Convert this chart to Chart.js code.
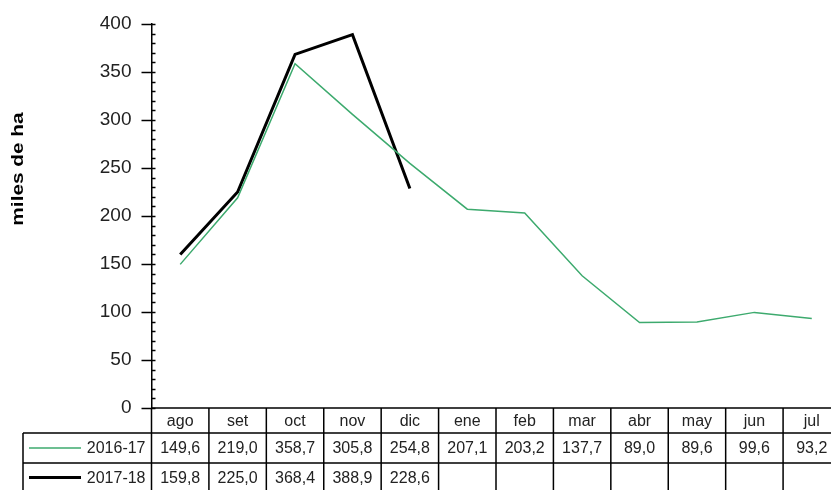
<!DOCTYPE html>
<html>
<head>
<meta charset="utf-8">
<script src="https://cdn.jsdelivr.net/npm/chart.js@4/dist/chart.umd.min.js"></script>
<style>
  html, body { margin: 0; padding: 0; background: #fff; overflow: hidden; }
  #wrap { width: 846px; height: 495px; }
</style>
</head>
<body>
<div id="wrap"><canvas id="grafico" width="846" height="495"></canvas></div>
<script>
const meses = ['ago', 'set', 'oct', 'nov', 'dic', 'ene', 'feb', 'mar', 'abr', 'may', 'jun', 'jul'];
const serie2016 = [149.6, 219.0, 358.7, 305.8, 254.8, 207.1, 203.2, 137.7, 89.0, 89.6, 99.6, 93.2];
const serie2017 = [159.8, 225.0, 368.4, 388.9, 228.6, null, null, null, null, null, null, null];
const nombres = ['2016-17', '2017-18'];
const colores = ['#3DAA6E', '#000000'];
const grosores = [1.5, 3];

const fuente = '"Liberation Sans", Arial, sans-serif';
const formato = v => v == null ? '' : v.toFixed(1).replace('.', ',');

// dibuja la tabla de datos, las marcas menores y el titulo del eje
const tablaPlugin = {
  id: 'tabla',
  afterDraw(chart) {
    const c = chart.ctx;
    const area = chart.chartArea;
    const xs = chart.scales.x;
    const ys = chart.scales.y;
    const ancho = (area.right - area.left) / meses.length;
    const y0 = area.bottom;
    const filas = [y0, y0 + 25, y0 + 55, y0 + 84];
    const izq = 23;

    c.save();
    c.strokeStyle = '#000';
    c.lineWidth = 1.5;

    // marcas menores cada 10
    for (let v = 0; v <= 400; v += 10) {
      const py = Math.round(ys.getPixelForValue(v)) + 0.5;
      c.beginPath();
      c.moveTo(area.left, py);
      c.lineTo(area.left + 4, py);
      c.stroke();
    }

    // lineas horizontales
    c.beginPath();
    c.moveTo(area.left, filas[0]);
    c.lineTo(area.right, filas[0]);
    for (let i = 1; i < filas.length; i++) {
      c.moveTo(izq, filas[i]);
      c.lineTo(area.right, filas[i]);
    }
    c.stroke();

    // lineas verticales
    c.beginPath();
    for (let i = 0; i <= meses.length; i++) {
      const px = area.left + i * ancho;
      c.moveTo(px, filas[0]);
      c.lineTo(px, filas[3]);
    }
    c.moveTo(izq, filas[1]);
    c.lineTo(izq, filas[3]);
    c.stroke();

    // textos
    c.fillStyle = '#222';
    c.font = '16px ' + fuente;
    c.textAlign = 'center';
    c.textBaseline = 'middle';
    meses.forEach((m, i) => {
      const px = xs.getPixelForValue(i);
      c.fillText(m, px, (filas[0] + filas[1]) / 2 + 1);
      c.fillText(formato(serie2016[i]), px, (filas[1] + filas[2]) / 2 + 1);
      c.fillText(formato(serie2017[i]), px, (filas[2] + filas[3]) / 2 + 1);
    });

    // leyenda en la tabla
    [1, 2].forEach((f, k) => {
      const cy = (filas[f] + filas[f + 1]) / 2;
      c.strokeStyle = colores[k];
      c.lineWidth = grosores[k];
      c.beginPath();
      c.moveTo(29, cy);
      c.lineTo(81, cy);
      c.stroke();
      c.textAlign = 'right';
      c.fillText(nombres[k], area.left - 6, cy + 1);
    });

    // titulo del eje y
    c.translate(19, 169);
    c.rotate(-Math.PI / 2);
    c.scale(1.3, 1);
    c.font = 'bold 16px ' + fuente;
    c.fillStyle = '#000';
    c.textAlign = 'center';
    c.fillText('miles de ha', 0, 0);
    c.restore();
  }
};

new Chart(document.getElementById('grafico'), {
  type: 'line',
  data: {
    labels: meses,
    datasets: [
      {
        label: nombres[0],
        data: serie2016,
        borderColor: colores[0],
        borderWidth: grosores[0],
        pointRadius: 0,
        tension: 0
      },
      {
        label: nombres[1],
        data: serie2017,
        borderColor: colores[1],
        borderWidth: grosores[1],
        pointRadius: 0,
        tension: 0
      }
    ]
  },
  options: {
    responsive: false,
    animation: false,
    layout: { padding: { top: 24, bottom: 87, right: 5.5, left: 0 } },
    plugins: {
      legend: { display: false },
      tooltip: { enabled: false }
    },
    scales: {
      x: {
        display: false,
        offset: true,
        grid: { display: false }
      },
      y: {
        min: 0,
        max: 400,
        afterFit: s => { s.width = 151.5; },
        border: { color: '#000', width: 1.5 },
        grid: {
          drawOnChartArea: false,
          tickLength: 10,
          tickColor: '#000',
          tickWidth: 1.5
        },
        ticks: {
          stepSize: 50,
          padding: 10,
          color: '#222',
          font: { size: 19, family: fuente }
        }
      }
    }
  },
  plugins: [tablaPlugin]
});
</script>
</body>
</html>
